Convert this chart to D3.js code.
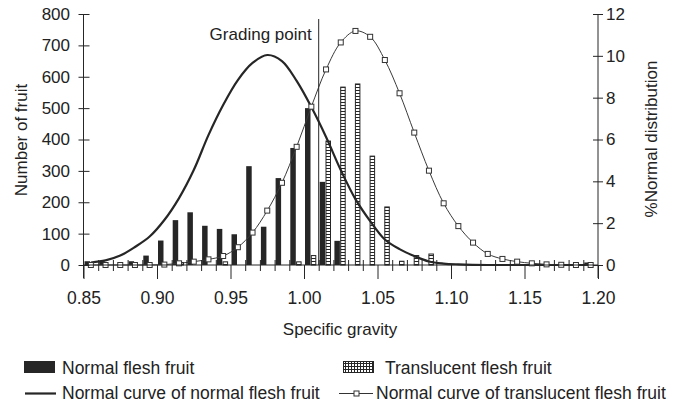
<!DOCTYPE html>
<html><head><meta charset="utf-8">
<script src="https://cdn.jsdelivr.net/npm/d3@7"></script>
<style>
body{margin:0;background:#fff}
svg text{font-family:"Liberation Sans",Arial,Helvetica,sans-serif;fill:#222}
</style>
</head><body>
<svg id="c" width="673" height="405"></svg>
<script>
// ---- data ----
const bins = [0.85,0.86,0.87,0.88,0.89,0.90,0.91,0.92,0.93,0.94,0.95,0.96,0.97,0.98,0.99,1.00,1.01,1.02,1.03,1.04,1.05,1.06,1.07,1.08,1.09,1.10,1.11,1.12,1.13,1.14,1.15,1.16,1.17,1.18,1.19];
const normalFlesh = [12,12,0,12,30,78,143,168,125,115,98,315,122,277,373,500,265,77,0,0,0,0,0,0,0,0,0,0,0,0,0,0,0,0,8];
const translucentFlesh = [0,0,0,0,0,0,8,0,0,10,0,0,0,0,10,30,395,567,577,347,185,12,30,35,0,0,0,0,0,0,0,0,0,0,0];
const curveNormal = [0.12,0.22,0.45,0.86,1.36,2.15,3.2,4.54,6.21,7.65,8.84,9.66,10.04,9.75,8.8,7.55,6.12,4.54,3.15,2.1,1.22,0.76,0.43,0.17,0.07,0.03,0.01,0,0,0,0,0,0,0,0];
const curveTranslucent = [0,0,0,0,0,0.02,0.08,0.16,0.27,0.43,0.85,1.55,2.6,3.93,5.65,7.57,9.35,10.64,11.19,10.91,9.8,8.21,6.33,4.51,2.95,1.86,1.07,0.53,0.29,0.16,0.08,0.03,0.01,0,0];
const xTickLabels = ["0.85","0.90","0.95","1.00","1.05","1.10","1.15","1.20"];
const yLeftTicks = [0,100,200,300,400,500,600,700,800];
const yRightTicks = [0,2,4,6,8,10,12];
const gradingPoint = 1.01;

// ---- scales ----
const svg = d3.select("#c");
const x = d3.scaleLinear().domain([0.85,1.20]).range([83.5,598]);
const yL = d3.scaleLinear().domain([0,800]).range([265,14]);
const yR = d3.scaleLinear().domain([0,12]).range([265,14]);
const binW = x(0.86)-x(0.85);
const ink = "#262626";

// patterns
const defs = svg.append("defs");
const p1 = defs.append("pattern").attr("id","hbar").attr("patternUnits","userSpaceOnUse").attr("width",8).attr("height",3);
p1.append("rect").attr("width",8).attr("height",3).attr("fill","#fff");
p1.append("rect").attr("width",8).attr("height",1).attr("fill",ink);
const p2 = defs.append("pattern").attr("id","grid").attr("patternUnits","userSpaceOnUse").attr("width",3).attr("height",3);
p2.append("rect").attr("width",3).attr("height",3).attr("fill","#fff");
p2.append("rect").attr("width",3).attr("height",1).attr("fill",ink);
p2.append("rect").attr("width",1).attr("height",3).attr("fill",ink);

// ---- bars ----
svg.append("g").selectAll("rect").data(bins.map((b,i)=>({b,v:normalFlesh[i]})).filter(d=>d.v>0))
  .join("rect")
  .attr("x",d=>x(d.b)+1).attr("width",5.5)
  .attr("y",d=>yL(d.v)).attr("height",d=>yL(0)-yL(d.v))
  .attr("fill",ink);

svg.append("g").selectAll("rect").data(bins.map((b,i)=>({b,v:translucentFlesh[i]})).filter(d=>d.v>0))
  .join("rect")
  .attr("x",d=>x(d.b)+7.3).attr("width",4.5)
  .attr("y",d=>yL(d.v)).attr("height",d=>yL(0)-yL(d.v))
  .attr("fill","url(#hbar)").attr("stroke",ink).attr("stroke-width",1);

// ---- curves ----
const lineN = d3.line().x((d,i)=>x(bins[i])+binW/2).y(d=>yR(d)).curve(d3.curveCatmullRom);
svg.append("path").datum(curveNormal).attr("d",lineN)
  .attr("fill","none").attr("stroke",ink).attr("stroke-width",2.2);

svg.append("path").datum(curveTranslucent).attr("d",lineN)
  .attr("fill","none").attr("stroke","#3a3a3a").attr("stroke-width",1);
svg.append("g").selectAll("rect").data(curveTranslucent).join("rect")
  .attr("x",(d,i)=>x(bins[i])+binW/2-2.5).attr("y",d=>yR(d)-2.5)
  .attr("width",5).attr("height",5)
  .attr("fill","#fff").attr("stroke","#333").attr("stroke-width",1);

// ---- axes ----
// left
const gL = svg.append("g").attr("transform","translate(83.5,0)")
  .call(d3.axisLeft(yL).tickValues(yLeftTicks).tickSize(5).tickPadding(8.5));
gL.select(".domain").remove();
gL.selectAll(".tick line").attr("x1",6).attr("x2",-5).attr("stroke",ink);
gL.selectAll(".tick text").attr("font-size",17).style("font-family","Liberation Sans, Arial, sans-serif");
gL.append("line").attr("y1",14).attr("y2",278).attr("stroke",ink);

// right
const gR = svg.append("g").attr("transform","translate(598,0)")
  .call(d3.axisRight(yR).tickValues(yRightTicks).tickSize(5).tickPadding(3));
gR.select(".domain").remove();
gR.selectAll(".tick line").attr("x1",-5).attr("x2",5).attr("stroke",ink);
gR.selectAll(".tick text").attr("font-size",17).style("font-family","Liberation Sans, Arial, sans-serif");
gR.append("line").attr("y1",14).attr("y2",278).attr("stroke",ink);

// bottom
const allTicks = bins.concat([1.20]);
const isMajor = v => xTickLabels.includes(v.toFixed(2));
const gB = svg.append("g").attr("transform","translate(0,265)")
  .call(d3.axisBottom(x).tickValues(allTicks).tickSize(6)
    .tickFormat(v => isMajor(v) ? v.toFixed(2) : ""));
gB.select(".domain").attr("d",`M${x(0.85)},0H${x(1.20)}`).attr("stroke",ink);
gB.selectAll(".tick line").each(function(v){
  const l = d3.select(this).attr("stroke",ink);
  if(isMajor(v)) l.attr("y1",0).attr("y2",14);
  else l.attr("y1",-5).attr("y2",6);
});
gB.selectAll(".tick text").attr("y",39).attr("dy",null).attr("font-size",17.5)
  .style("font-family","Liberation Sans, Arial, sans-serif");

// grading point
svg.append("line").attr("x1",x(gradingPoint)).attr("x2",x(gradingPoint))
  .attr("y1",19).attr("y2",265).attr("stroke",ink).attr("stroke-width",1);
svg.append("text").attr("x",x(gradingPoint)-7).attr("y",40).attr("text-anchor","end")
  .attr("font-size",17).text("Grading point");

// axis titles
svg.append("text").attr("x",340).attr("y",335).attr("text-anchor","middle").attr("font-size",17).text("Specific gravity");
svg.append("text").attr("transform","translate(27,140) rotate(-90)").attr("text-anchor","middle").attr("font-size",17).text("Number of fruit");
svg.append("text").attr("transform","translate(657,139) rotate(-90)").attr("text-anchor","middle").attr("font-size",17).text("%Normal distribution");

// ---- legend ----
const lg = svg.append("g");
const lfs = 17.5;
lg.append("rect").attr("x",24).attr("y",361).attr("width",31).attr("height",12).attr("fill",ink);
lg.append("text").attr("x",62).attr("y",374).attr("font-size",lfs).text("Normal flesh fruit");
lg.append("rect").attr("x",343.5).attr("y",361.5).attr("width",30).attr("height",11).attr("fill","url(#grid)").attr("stroke",ink);
lg.append("text").attr("x",385).attr("y",374).attr("font-size",lfs).text("Translucent flesh fruit");
lg.append("line").attr("x1",25).attr("x2",56).attr("y1",393.5).attr("y2",393.5).attr("stroke",ink).attr("stroke-width",2.2);
lg.append("text").attr("x",62).attr("y",399).attr("font-size",lfs).text("Normal curve of normal flesh fruit");
lg.append("line").attr("x1",339).attr("x2",373).attr("y1",393.5).attr("y2",393.5).attr("stroke","#333").attr("stroke-width",1);
lg.append("rect").attr("x",354).attr("y",391).attr("width",5).attr("height",5).attr("fill","#fff").attr("stroke","#333");
lg.append("text").attr("x",376).attr("y",399).attr("font-size",lfs).text("Normal curve of translucent flesh fruit");
</script>
</body></html>
